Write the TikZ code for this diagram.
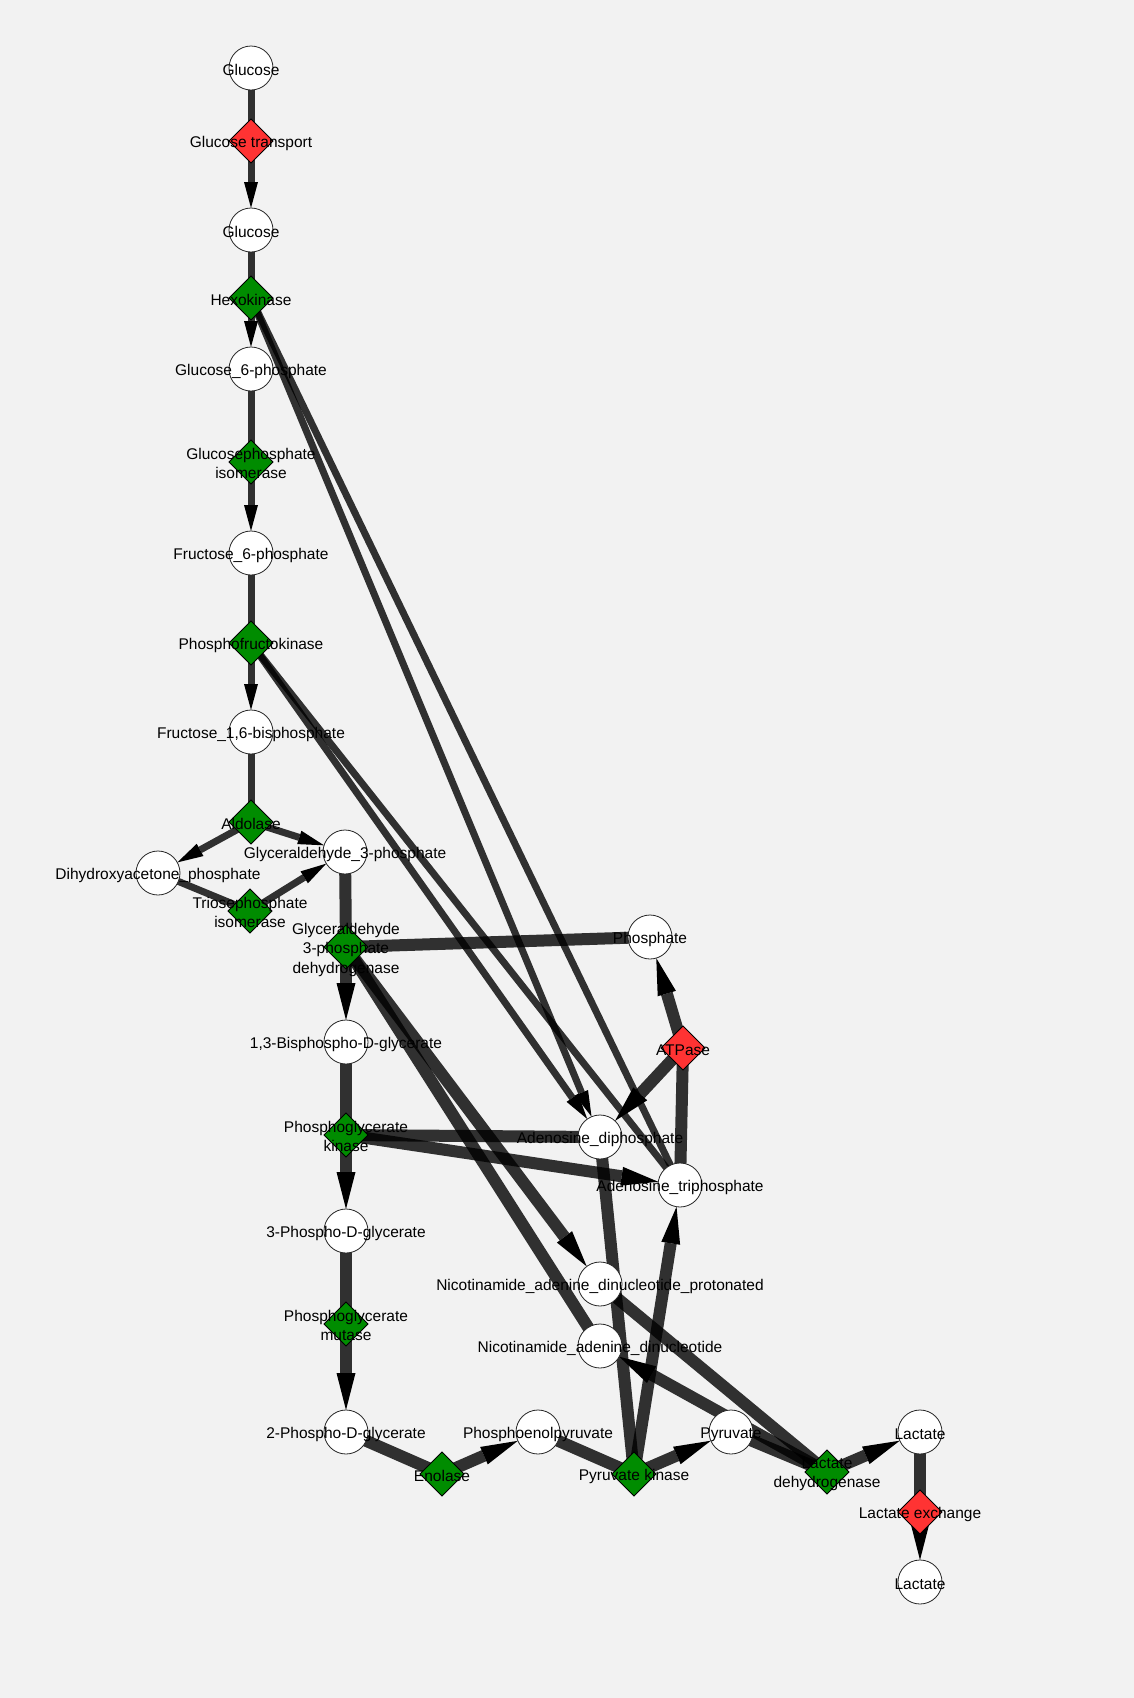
\documentclass[tikz,border=0pt]{standalone}
\usepackage{fontspec}
\setmainfont{Liberation Sans}
\usetikzlibrary{shapes.geometric,arrows.meta}
\pgfdeclarelayer{bg}
\pgfdeclarelayer{fg}
\pgfsetlayers{bg,main,fg}
\definecolor{bgc}{HTML}{F2F2F2}
\definecolor{rxg}{HTML}{008C00}
\definecolor{rxr}{HTML}{FF3333}
\newcommand\mystrut{\rule[-2pt]{0pt}{19pt}}
\begin{document}
\begin{tikzpicture}[x=1pt,y=-1pt,
 met/.style={circle,minimum size=44pt,inner sep=0pt,outer sep=0pt,fill=white,draw=black!85,line width=0.8pt},
 rxn/.style={diamond,aspect=1,minimum width=44pt,minimum height=44pt,inner sep=0pt,outer sep=0pt,fill=rxg,draw=black,line width=0.8pt},
 rxnred/.style={rxn,fill=rxr},
 lbl/.style={font=\fontsize{15.5}{19.5}\selectfont,align=center,inner sep=0pt,text=black,
   execute at begin node=\mystrut, execute at end node=\mystrut},
 lblm/.style={lbl,yshift=-2.5pt},
 fa/.style={draw=black,draw opacity=0.8,fill opacity=1,line width=7pt},
 fb/.style={draw=black,draw opacity=0.8,fill opacity=1,line width=12pt},
 ta/.style={-{Triangle[length=26pt,width=14pt,line width=0pt]}},
 tb/.style={-{Triangle[length=37pt,width=19pt,line width=0pt]}},
]
\begin{pgfonlayer}{bg}
\fill[bgc] (0,0) rectangle (1134,1698);
\end{pgfonlayer}
\useasboundingbox (0,0) rectangle (1134,1698);

% metabolites
\node[met] (glcA) at (251,68) {};
\node[met] (glcB) at (251,230) {};
\node[met] (g6p) at (251,369) {};
\node[met] (f6p) at (251,553) {};
\node[met] (fbp) at (251,732) {};
\node[met] (dhap) at (158,873) {};
\node[met] (gap) at (345,852) {};
\node[met] (pi) at (650,937) {};
\node[met] (bpg) at (346,1042) {};
\node[met] (adp) at (600,1137) {};
\node[met] (atp) at (680,1185) {};
\node[met] (pgA) at (346,1231) {};
\node[met] (nadh) at (600,1284) {};
\node[met] (nad) at (600,1346) {};
\node[met] (pgB) at (346,1432) {};
\node[met] (pep) at (538,1432) {};
\node[met] (pyr) at (731,1432) {};
\node[met] (lacA) at (920,1432) {};
\node[met] (lacB) at (920,1582) {};

% reactions
\node[rxnred] (gt) at (251,141) {};
\node[rxn] (hk) at (251,298) {};
\node[rxn] (gpi) at (251,462) {};
\node[rxn] (pfk) at (251,643) {};
\node[rxn] (ald) at (251,822) {};
\node[rxn] (tpi) at (250,911) {};
\node[rxn] (gapdh) at (346,947) {};
\node[rxnred] (atpase) at (683,1048) {};
\node[rxn] (pgk) at (346,1135) {};
\node[rxn] (pgm) at (346,1324) {};
\node[rxn] (eno) at (442,1474) {};
\node[rxn] (pk) at (634,1474) {};
\node[rxn] (ldh) at (827,1472) {};
\node[rxnred] (lex) at (920,1512) {};

\begin{pgfonlayer}{bg}
% flux 1 edges
\draw[fa] (glcA.center) -- (gt.center);
\draw[fa,ta] (gt.center) -- (glcB);
\draw[fa] (glcB.center) -- (hk.center);
\draw[fa,ta] (hk.center) -- (g6p);
\draw[fa] (atp.center) -- (hk.center);
\draw[fa,ta] (hk.center) -- (adp);
\draw[fa] (g6p.center) -- (gpi.center);
\draw[fa,ta] (gpi.center) -- (f6p);
\draw[fa] (f6p.center) -- (pfk.center);
\draw[fa,ta] (pfk.center) -- (fbp);
\draw[fa] (atp.center) -- (pfk.center);
\draw[fa,ta] (pfk.center) -- (adp);
\draw[fa] (fbp.center) -- (ald.center);
\draw[fa,ta] (ald.center) -- (dhap);
\draw[fa,ta] (ald.center) -- (gap);
\draw[fa] (dhap.center) -- (tpi.center);
\draw[fa,ta] (tpi.center) -- (gap);
% flux 2 edges
\draw[fb] (gap.center) -- (gapdh.center);
\draw[fb] (pi.center) -- (gapdh.center);
\draw[fb] (nad.center) -- (gapdh.center);
\draw[fb,tb] (gapdh.center) -- (bpg);
\draw[fb,tb] (gapdh.center) -- (nadh);
\draw[fb] (bpg.center) -- (pgk.center);
\draw[fb] (adp.center) -- (pgk.center);
\draw[fb,tb] (pgk.center) -- (pgA);
\draw[fb,tb] (pgk.center) -- (atp);
\draw[fb] (pgA.center) -- (pgm.center);
\draw[fb,tb] (pgm.center) -- (pgB);
\draw[fb] (pgB.center) -- (eno.center);
\draw[fb,tb] (eno.center) -- (pep);
\draw[fb] (pep.center) -- (pk.center);
\draw[fb] (adp.center) -- (pk.center);
\draw[fb,tb] (pk.center) -- (pyr);
\draw[fb,tb] (pk.center) -- (atp);
\draw[fb] (pyr.center) -- (ldh.center);
\draw[fb] (nadh.center) -- (ldh.center);
\draw[fb,tb] (ldh.center) -- (lacA);
\draw[fb,tb] (ldh.center) -- (nad);
\draw[fb] (lacA.center) -- (lex.center);
\draw[fb,tb] (lex.center) -- (lacB);
\draw[fb] (atp.center) -- (atpase.center);
\draw[fb,tb] (atpase.center) -- (adp);
\draw[fb,tb] (atpase.center) -- (pi);
\end{pgfonlayer}

\begin{pgfonlayer}{fg}
\node[lbl] (glcA-l) at (glcA) {Glucose};
\node[lbl] (glcB-l) at (glcB) {Glucose};
\node[lbl] (g6p-l) at (g6p) {Glucose\_6-phosphate};
\node[lbl] (f6p-l) at (f6p) {Fructose\_6-phosphate};
\node[lbl] (fbp-l) at (fbp) {Fructose\_1,6-bisphosphate};
\node[lbl] (dhap-l) at (dhap) {Dihydroxyacetone\_phosphate};
\node[lbl] (gap-l) at (gap) {Glyceraldehyde\_3-phosphate};
\node[lbl] (pi-l) at (pi) {Phosphate};
\node[lbl] (bpg-l) at (bpg) {1,3-Bisphospho-D-glycerate};
\node[lbl] (adp-l) at (adp) {Adenosine\_diphosphate};
\node[lbl] (atp-l) at (atp) {Adenosine\_triphosphate};
\node[lbl] (pgA-l) at (pgA) {3-Phospho-D-glycerate};
\node[lbl] (nadh-l) at (nadh) {Nicotinamide\_adenine\_dinucleotide\_protonated};
\node[lbl] (nad-l) at (nad) {Nicotinamide\_adenine\_dinucleotide};
\node[lbl] (pgB-l) at (pgB) {2-Phospho-D-glycerate};
\node[lbl] (pep-l) at (pep) {Phosphoenolpyruvate};
\node[lbl] (pyr-l) at (pyr) {Pyruvate};
\node[lbl] (lacA-l) at (lacA) {Lactate};
\node[lbl] (lacB-l) at (lacB) {Lactate};
\node[lbl] (gt-l) at (gt) {Glucose transport};
\node[lbl] (hk-l) at (hk) {Hexokinase};
\node[lblm] (gpi-l) at (gpi) {Glucosephosphate\\isomerase};
\node[lbl] (pfk-l) at (pfk) {Phosphofructokinase};
\node[lbl] (ald-l) at (ald) {Aldolase};
\node[lblm] (tpi-l) at (tpi) {Triosephosphate\\isomerase};
\node[lblm] (gapdh-l) at (gapdh) {Glyceraldehyde\\3-phosphate\\dehydrogenase};
\node[lbl] (atpase-l) at (atpase) {ATPase};
\node[lblm] (pgk-l) at (pgk) {Phosphoglycerate\\kinase};
\node[lblm] (pgm-l) at (pgm) {Phosphoglycerate\\mutase};
\node[lbl] (eno-l) at (eno) {Enolase};
\node[lbl] (pk-l) at (pk) {Pyruvate kinase};
\node[lblm] (ldh-l) at (ldh) {Lactate\\dehydrogenase};
\node[lbl] (lex-l) at (lex) {Lactate exchange};
\end{pgfonlayer}
\end{tikzpicture}
\end{document}
